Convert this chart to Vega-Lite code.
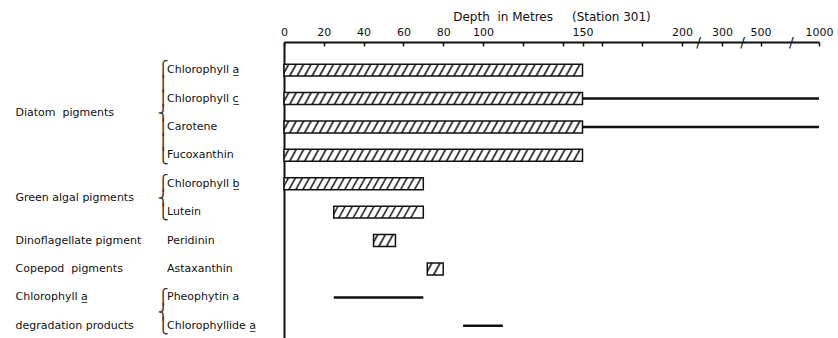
{
  "$schema": "https://vega.github.io/schema/vega-lite/v6.json",
  "width": 535,
  "height": 298,
  "autosize": {"type": "none"},
  "padding": {"left": 284, "top": 42, "right": 19, "bottom": 0},
  "background": "white",
  "config": {
    "font": "DejaVu Sans",
    "view": {"stroke": null},
    "axis": {"labelFont": "DejaVu Sans", "titleFont": "DejaVu Sans", "labelColor": "#111", "titleColor": "#111", "grid": false}
  },
  "datasets": {
    "rows": [
      {"pigment": "Chlorophyll a\u0332", "kind": "hatched", "from": 0, "to": 150},
      {"pigment": "Chlorophyll c\u0332", "kind": "hatched", "from": 0, "to": 150},
      {"pigment": "Chlorophyll c\u0332", "kind": "line", "from": 150, "to": 1000},
      {"pigment": "Carotene", "kind": "hatched", "from": 0, "to": 150},
      {"pigment": "Carotene", "kind": "line", "from": 150, "to": 1000},
      {"pigment": "Fucoxanthin", "kind": "hatched", "from": 0, "to": 150},
      {"pigment": "Chlorophyll b\u0332", "kind": "hatched", "from": 0, "to": 70},
      {"pigment": "Lutein", "kind": "hatched", "from": 25, "to": 70},
      {"pigment": "Peridinin", "kind": "hatched", "from": 45, "to": 56},
      {"pigment": "Astaxanthin", "kind": "hatched", "from": 72, "to": 80},
      {"pigment": "Pheophytin a", "kind": "line", "from": 25, "to": 70},
      {"pigment": "Chlorophyllide a\u0332", "kind": "line", "from": 90, "to": 110}
    ]
  },
  "data": {"name": "rows"},
  "resolve": {"axis": {"x": "independent", "y": "independent"}},
  "layer": [
    {
      "transform": [{"filter": "datum.kind == 'hatched'"}],
      "mark": {"type": "bar", "height": {"band": 0.42}, "stroke": "#111", "strokeWidth": 1.5},
      "encoding": {
        "x": {
          "field": "from", "type": "quantitative",
          "scale": {"domain": [0, 200, 300, 500, 1000], "range": [0, 398, 438, 476.5, 535], "nice": false, "zero": false},
          "axis": {
            "orient": "top",
            "values": [0, 20, 40, 60, 80, 100, 120, 140, 150, 160, 180, 200, 300, 500, 1000],
            "format": "d",
            "labelExpr": "indexof([120, 140, 160, 180], datum.value) >= 0 ? '' : datum.label",
            "labelFontSize": 11,
            "labelOverlap": false,
            "labelFlush": false,
            "tickSize": -4,
            "tickColor": "#111",
            "tickWidth": 1.5,
            "labelPadding": 9,
            "domainColor": "#111",
            "domainWidth": 2,
            "title": "Depth\u00a0 in Metres\u00a0\u00a0\u00a0\u00a0 (Station 301)",
            "titleFontSize": 12,
            "titleFontWeight": "normal",
            "titlePadding": 3
          }
        },
        "x2": {"field": "to"},
        "y": {
          "field": "pigment", "type": "nominal",
          "scale": {
            "domain": ["Chlorophyll a\u0332", "Chlorophyll c\u0332", "Carotene", "Fucoxanthin", "Chlorophyll b\u0332", "Lutein", "Peridinin", "Astaxanthin", "Pheophytin a", "Chlorophyllide a\u0332"],
            "paddingInner": 0, "paddingOuter": 0.2446, "align": 1
          },
          "axis": {
            "orient": "left",
            "title": null,
            "ticks": false,
            "labelAlign": "left",
            "labelPadding": 117.5,
            "labelFontSize": 11,
            "labelLimit": 0,
            "domainColor": "#111",
            "domainWidth": 2
          }
        },
        "fill": {
          "condition": [
            {"test": "datum.to - datum.from > 100", "value": {"gradient": "linear", "x1": 0, "y1": 0, "x2": 1, "y2": 0.022, "stops": [
              {"offset": 0.010, "color": "#fff"}, {"offset": 0.016, "color": "#111"}, {"offset": 0.022, "color": "#fff"},
              {"offset": 0.035, "color": "#fff"}, {"offset": 0.041, "color": "#111"}, {"offset": 0.047, "color": "#fff"},
              {"offset": 0.060, "color": "#fff"}, {"offset": 0.066, "color": "#111"}, {"offset": 0.072, "color": "#fff"},
              {"offset": 0.085, "color": "#fff"}, {"offset": 0.091, "color": "#111"}, {"offset": 0.097, "color": "#fff"},
              {"offset": 0.110, "color": "#fff"}, {"offset": 0.116, "color": "#111"}, {"offset": 0.122, "color": "#fff"},
              {"offset": 0.135, "color": "#fff"}, {"offset": 0.141, "color": "#111"}, {"offset": 0.147, "color": "#fff"},
              {"offset": 0.160, "color": "#fff"}, {"offset": 0.166, "color": "#111"}, {"offset": 0.172, "color": "#fff"},
              {"offset": 0.185, "color": "#fff"}, {"offset": 0.191, "color": "#111"}, {"offset": 0.197, "color": "#fff"},
              {"offset": 0.210, "color": "#fff"}, {"offset": 0.216, "color": "#111"}, {"offset": 0.222, "color": "#fff"},
              {"offset": 0.235, "color": "#fff"}, {"offset": 0.241, "color": "#111"}, {"offset": 0.247, "color": "#fff"},
              {"offset": 0.260, "color": "#fff"}, {"offset": 0.266, "color": "#111"}, {"offset": 0.272, "color": "#fff"},
              {"offset": 0.285, "color": "#fff"}, {"offset": 0.291, "color": "#111"}, {"offset": 0.297, "color": "#fff"},
              {"offset": 0.310, "color": "#fff"}, {"offset": 0.316, "color": "#111"}, {"offset": 0.322, "color": "#fff"},
              {"offset": 0.335, "color": "#fff"}, {"offset": 0.341, "color": "#111"}, {"offset": 0.347, "color": "#fff"},
              {"offset": 0.360, "color": "#fff"}, {"offset": 0.366, "color": "#111"}, {"offset": 0.372, "color": "#fff"},
              {"offset": 0.385, "color": "#fff"}, {"offset": 0.391, "color": "#111"}, {"offset": 0.397, "color": "#fff"},
              {"offset": 0.410, "color": "#fff"}, {"offset": 0.416, "color": "#111"}, {"offset": 0.422, "color": "#fff"},
              {"offset": 0.435, "color": "#fff"}, {"offset": 0.441, "color": "#111"}, {"offset": 0.447, "color": "#fff"},
              {"offset": 0.460, "color": "#fff"}, {"offset": 0.466, "color": "#111"}, {"offset": 0.472, "color": "#fff"},
              {"offset": 0.485, "color": "#fff"}, {"offset": 0.491, "color": "#111"}, {"offset": 0.497, "color": "#fff"},
              {"offset": 0.510, "color": "#fff"}, {"offset": 0.516, "color": "#111"}, {"offset": 0.522, "color": "#fff"},
              {"offset": 0.535, "color": "#fff"}, {"offset": 0.541, "color": "#111"}, {"offset": 0.547, "color": "#fff"},
              {"offset": 0.560, "color": "#fff"}, {"offset": 0.566, "color": "#111"}, {"offset": 0.572, "color": "#fff"},
              {"offset": 0.585, "color": "#fff"}, {"offset": 0.591, "color": "#111"}, {"offset": 0.597, "color": "#fff"},
              {"offset": 0.610, "color": "#fff"}, {"offset": 0.616, "color": "#111"}, {"offset": 0.622, "color": "#fff"},
              {"offset": 0.635, "color": "#fff"}, {"offset": 0.641, "color": "#111"}, {"offset": 0.647, "color": "#fff"},
              {"offset": 0.660, "color": "#fff"}, {"offset": 0.666, "color": "#111"}, {"offset": 0.672, "color": "#fff"},
              {"offset": 0.685, "color": "#fff"}, {"offset": 0.691, "color": "#111"}, {"offset": 0.697, "color": "#fff"},
              {"offset": 0.710, "color": "#fff"}, {"offset": 0.716, "color": "#111"}, {"offset": 0.722, "color": "#fff"},
              {"offset": 0.735, "color": "#fff"}, {"offset": 0.741, "color": "#111"}, {"offset": 0.747, "color": "#fff"},
              {"offset": 0.760, "color": "#fff"}, {"offset": 0.766, "color": "#111"}, {"offset": 0.772, "color": "#fff"},
              {"offset": 0.785, "color": "#fff"}, {"offset": 0.791, "color": "#111"}, {"offset": 0.797, "color": "#fff"},
              {"offset": 0.810, "color": "#fff"}, {"offset": 0.816, "color": "#111"}, {"offset": 0.822, "color": "#fff"},
              {"offset": 0.835, "color": "#fff"}, {"offset": 0.841, "color": "#111"}, {"offset": 0.847, "color": "#fff"},
              {"offset": 0.860, "color": "#fff"}, {"offset": 0.866, "color": "#111"}, {"offset": 0.872, "color": "#fff"},
              {"offset": 0.885, "color": "#fff"}, {"offset": 0.891, "color": "#111"}, {"offset": 0.897, "color": "#fff"},
              {"offset": 0.910, "color": "#fff"}, {"offset": 0.916, "color": "#111"}, {"offset": 0.922, "color": "#fff"},
              {"offset": 0.935, "color": "#fff"}, {"offset": 0.941, "color": "#111"}, {"offset": 0.947, "color": "#fff"},
              {"offset": 0.960, "color": "#fff"}, {"offset": 0.966, "color": "#111"}, {"offset": 0.972, "color": "#fff"},
              {"offset": 0.985, "color": "#fff"}, {"offset": 0.991, "color": "#111"}, {"offset": 0.997, "color": "#fff"}
            ]}},
            {"test": "datum.to - datum.from > 60", "value": {"gradient": "linear", "x1": 0, "y1": 0, "x2": 1, "y2": 0.0475, "stops": [
              {"offset": 0.02, "color": "#fff"}, {"offset": 0.032, "color": "#111"}, {"offset": 0.044, "color": "#fff"},
              {"offset": 0.07, "color": "#fff"}, {"offset": 0.082, "color": "#111"}, {"offset": 0.094, "color": "#fff"},
              {"offset": 0.12, "color": "#fff"}, {"offset": 0.132, "color": "#111"}, {"offset": 0.144, "color": "#fff"},
              {"offset": 0.17, "color": "#fff"}, {"offset": 0.182, "color": "#111"}, {"offset": 0.194, "color": "#fff"},
              {"offset": 0.22, "color": "#fff"}, {"offset": 0.232, "color": "#111"}, {"offset": 0.244, "color": "#fff"},
              {"offset": 0.27, "color": "#fff"}, {"offset": 0.282, "color": "#111"}, {"offset": 0.294, "color": "#fff"},
              {"offset": 0.32, "color": "#fff"}, {"offset": 0.332, "color": "#111"}, {"offset": 0.344, "color": "#fff"},
              {"offset": 0.37, "color": "#fff"}, {"offset": 0.382, "color": "#111"}, {"offset": 0.394, "color": "#fff"},
              {"offset": 0.42, "color": "#fff"}, {"offset": 0.432, "color": "#111"}, {"offset": 0.444, "color": "#fff"},
              {"offset": 0.47, "color": "#fff"}, {"offset": 0.482, "color": "#111"}, {"offset": 0.494, "color": "#fff"},
              {"offset": 0.52, "color": "#fff"}, {"offset": 0.532, "color": "#111"}, {"offset": 0.544, "color": "#fff"},
              {"offset": 0.57, "color": "#fff"}, {"offset": 0.582, "color": "#111"}, {"offset": 0.594, "color": "#fff"},
              {"offset": 0.62, "color": "#fff"}, {"offset": 0.632, "color": "#111"}, {"offset": 0.644, "color": "#fff"},
              {"offset": 0.67, "color": "#fff"}, {"offset": 0.682, "color": "#111"}, {"offset": 0.694, "color": "#fff"},
              {"offset": 0.72, "color": "#fff"}, {"offset": 0.732, "color": "#111"}, {"offset": 0.744, "color": "#fff"},
              {"offset": 0.77, "color": "#fff"}, {"offset": 0.782, "color": "#111"}, {"offset": 0.794, "color": "#fff"},
              {"offset": 0.82, "color": "#fff"}, {"offset": 0.832, "color": "#111"}, {"offset": 0.844, "color": "#fff"},
              {"offset": 0.87, "color": "#fff"}, {"offset": 0.882, "color": "#111"}, {"offset": 0.894, "color": "#fff"},
              {"offset": 0.92, "color": "#fff"}, {"offset": 0.932, "color": "#111"}, {"offset": 0.944, "color": "#fff"},
              {"offset": 0.97, "color": "#fff"}, {"offset": 0.982, "color": "#111"}, {"offset": 0.994, "color": "#fff"}
            ]}},
            {"test": "datum.to - datum.from > 30", "value": {"gradient": "linear", "x1": 0, "y1": 0, "x2": 1, "y2": 0.074, "stops": [
              {"offset": 0.03, "color": "#fff"}, {"offset": 0.048, "color": "#111"}, {"offset": 0.066, "color": "#fff"},
              {"offset": 0.11, "color": "#fff"}, {"offset": 0.128, "color": "#111"}, {"offset": 0.146, "color": "#fff"},
              {"offset": 0.19, "color": "#fff"}, {"offset": 0.208, "color": "#111"}, {"offset": 0.226, "color": "#fff"},
              {"offset": 0.27, "color": "#fff"}, {"offset": 0.288, "color": "#111"}, {"offset": 0.306, "color": "#fff"},
              {"offset": 0.35, "color": "#fff"}, {"offset": 0.368, "color": "#111"}, {"offset": 0.386, "color": "#fff"},
              {"offset": 0.43, "color": "#fff"}, {"offset": 0.448, "color": "#111"}, {"offset": 0.466, "color": "#fff"},
              {"offset": 0.51, "color": "#fff"}, {"offset": 0.528, "color": "#111"}, {"offset": 0.546, "color": "#fff"},
              {"offset": 0.59, "color": "#fff"}, {"offset": 0.608, "color": "#111"}, {"offset": 0.626, "color": "#fff"},
              {"offset": 0.67, "color": "#fff"}, {"offset": 0.688, "color": "#111"}, {"offset": 0.706, "color": "#fff"},
              {"offset": 0.75, "color": "#fff"}, {"offset": 0.768, "color": "#111"}, {"offset": 0.786, "color": "#fff"},
              {"offset": 0.83, "color": "#fff"}, {"offset": 0.848, "color": "#111"}, {"offset": 0.866, "color": "#fff"},
              {"offset": 0.91, "color": "#fff"}, {"offset": 0.928, "color": "#111"}, {"offset": 0.946, "color": "#fff"}
            ]}},
            {"test": "datum.to - datum.from > 10", "value": {"gradient": "linear", "x1": 0, "y1": 0, "x2": 1, "y2": 0.3, "stops": [
              {"offset": 0.10, "color": "#fff"}, {"offset": 0.175, "color": "#111"}, {"offset": 0.25, "color": "#fff"},
              {"offset": 0.42, "color": "#fff"}, {"offset": 0.495, "color": "#111"}, {"offset": 0.57, "color": "#fff"},
              {"offset": 0.74, "color": "#fff"}, {"offset": 0.815, "color": "#111"}, {"offset": 0.89, "color": "#fff"}
            ]}}
          ],
          "value": {"gradient": "linear", "x1": 0, "y1": 0, "x2": 1, "y2": 0.41, "stops": [
            {"offset": 0.15, "color": "#fff"}, {"offset": 0.25, "color": "#111"}, {"offset": 0.35, "color": "#fff"},
            {"offset": 0.59, "color": "#fff"}, {"offset": 0.69, "color": "#111"}, {"offset": 0.79, "color": "#fff"}
          ]}
        }
      }
    },
    {
      "transform": [{"filter": "datum.kind == 'line' && datum.from >= 150"}],
      "mark": {"type": "rule", "color": "#111", "strokeWidth": 2.5},
      "encoding": {
        "x": {
          "field": "from", "type": "quantitative",
          "scale": {"domain": [0, 200, 300, 500, 1000], "range": [0, 398, 438, 476.5, 535], "nice": false, "zero": false},
          "axis": {
            "orient": "top",
            "values": [240, 405, 760],
            "labelExpr": "'/'",
            "labelFontSize": 14,
            "labelBaseline": "middle",
            "labelPadding": 0,
            "labelOverlap": false,
            "labelFlush": false,
            "labelColor": "#111",
            "ticks": false,
            "domain": false,
            "title": null
          }
        },
        "x2": {"field": "to"},
        "y": {
          "field": "pigment", "type": "nominal",
          "scale": {
            "domain": ["Chlorophyll a\u0332", "Chlorophyll c\u0332", "Carotene", "Fucoxanthin", "Chlorophyll b\u0332", "Lutein", "Peridinin", "Astaxanthin", "Pheophytin a", "Chlorophyllide a\u0332"],
            "paddingInner": 0, "paddingOuter": 0.2446, "align": 1
          },
          "axis": {
            "orient": "left",
            "title": null,
            "ticks": false,
            "domain": false,
            "labelAlign": "left",
            "labelPadding": 269,
            "labelFontSize": 11,
            "labelLimit": 0,
            "labelExpr": "datum.value == 'Chlorophyll c\u0332' ? 'Diatom\u00a0 pigments' : datum.value == 'Chlorophyll b\u0332' ? 'Green algal pigments' : datum.value == 'Peridinin' ? 'Dinoflagellate pigment' : datum.value == 'Astaxanthin' ? 'Copepod\u00a0 pigments' : datum.value == 'Pheophytin a' ? 'Chlorophyll a\u0332' : datum.value == 'Chlorophyllide a\u0332' ? 'degradation products' : ''",
            "labelOffset": {"condition": {"test": "datum.value == 'Chlorophyll c\u0332' || datum.value == 'Chlorophyll b\u0332'", "value": 14.2}, "value": 0}
          }
        }
      }
    },
    {
      "transform": [{"filter": "datum.kind == 'line' && datum.from < 150"}],
      "mark": {"type": "rule", "color": "#111", "strokeWidth": 2.5},
      "encoding": {
        "x": {
          "field": "from", "type": "quantitative",
          "scale": {"domain": [0, 200, 300, 500, 1000], "range": [0, 398, 438, 476.5, 535], "nice": false, "zero": false},
          "axis": null
        },
        "x2": {"field": "to"},
        "y": {
          "field": "pigment", "type": "nominal",
          "scale": {
            "domain": ["Chlorophyll a\u0332", "Chlorophyll c\u0332", "Carotene", "Fucoxanthin", "Chlorophyll b\u0332", "Lutein", "Peridinin", "Astaxanthin", "Pheophytin a", "Chlorophyllide a\u0332"],
            "paddingInner": 0, "paddingOuter": 0.2446, "align": 1
          },
          "axis": {
            "orient": "left",
            "title": null,
            "ticks": false,
            "domain": false,
            "labelAlign": "left",
            "labelPadding": 127,
            "labelFontSize": 15,
            "labelLineHeight": 14.5,
            "labelColor": "#333",
            "labelLimit": 0,
            "labelExpr": "datum.value == 'Chlorophyll c\u0332' ? ['\u23a7', '\u23aa', '\u23aa', '\u23a8', '\u23aa', '\u23aa', '\u23a9'] : datum.value == 'Chlorophyll b\u0332' ? ['\u23a7', '\u23a8', '\u23a9'] : datum.value == 'Pheophytin a' ? ['\u23a7', '\u23a8', '\u23a9'] : ''",
            "labelOffset": {"condition": {"test": "datum.value == 'Chlorophyll c\u0332'", "value": -29.3}, "value": -0.3}
          }
        }
      }
    }
  ]
}
